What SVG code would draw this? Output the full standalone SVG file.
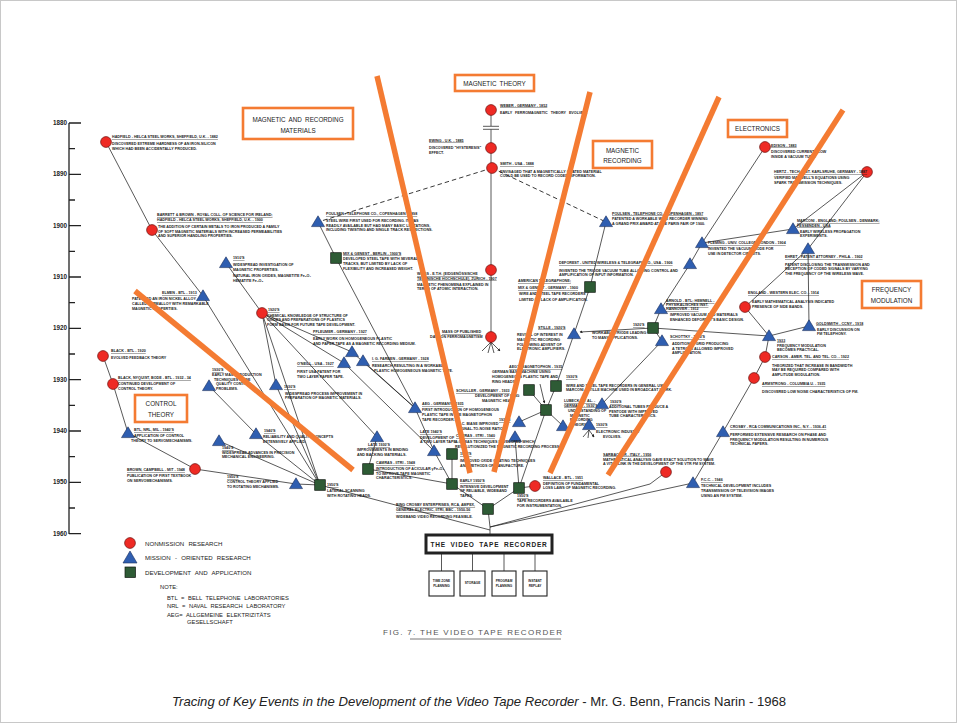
<svg xmlns="http://www.w3.org/2000/svg" width="957" height="723" viewBox="0 0 957 723">
<style>
  .frame{fill:#fff;stroke:#c8c8c8;stroke-width:1}
  .ax{stroke:#222;stroke-width:1.3;fill:none}
  .yr{font:bold 6.3px "Liberation Sans",Arial,sans-serif;fill:#222;text-anchor:end}
  .e{stroke:#222;stroke-width:0.75;fill:none}
  .dash{stroke-dasharray:4.5 3;stroke-width:0.9}
  .hl{stroke:#F47B32;stroke-width:5.5;stroke-linecap:butt}
  .hb{fill:#fff;stroke:#F47B32;stroke-width:2.6}
  .hbt{font:6.3px "Liberation Sans",Arial,sans-serif;fill:#222;text-anchor:middle;word-spacing:1.5px}
  .nr{fill:#EE2A24;stroke:#6b1210;stroke-width:0.7}
  .mo{fill:#2F5EB0;stroke:#1b2f5c;stroke-width:0.6}
  .da{fill:#2E5B35;stroke:#101810;stroke-width:0.7}
  .t{font:bold 3.7px "Liberation Sans",Arial,sans-serif;fill:#1a1a1a}
  .h{text-decoration:underline}
  .lg{font:6.1px "Liberation Sans",Arial,sans-serif;fill:#222;word-spacing:2.5px}
  .nt{font:5.8px "Liberation Sans",Arial,sans-serif;fill:#222;word-spacing:2px}
  .vb{fill:#fff;stroke:#222;stroke-width:3}
  .sb{fill:#fff;stroke:#222;stroke-width:1.1}
  .vt{font:bold 6.5px "Liberation Sans",Arial,sans-serif;fill:#222;text-anchor:middle;letter-spacing:0.8px;word-spacing:2px}
  .st{font:bold 3.2px "Liberation Sans",Arial,sans-serif;fill:#222;text-anchor:middle}
  .fig{font:8px "Liberation Sans",Arial,sans-serif;fill:#555;letter-spacing:1.3px}
  .cap{font:13.1px "Liberation Sans",Arial,sans-serif;fill:#222}
</style>
<defs>
  <circle id="rc" r="5.4" class="nr"/>
  <path id="tr" d="M0,-6.2 L6.5,4.6 L-6.5,4.6 Z" class="mo"/>
  <rect id="sq" x="-5.3" y="-5.3" width="10.6" height="10.6" class="da"/>
  <marker id="ar" viewBox="0 0 6 6" refX="5" refY="3" markerWidth="4" markerHeight="4" orient="auto">
    <path d="M0,0 L6,3 L0,6 Z" fill="#222"/>
  </marker>
</defs>

<rect class="frame" x="0.5" y="0.5" width="956" height="722"/>

<!-- time axis -->
<g id="axis">
  <path class="ax" d="M69,123 V534 M69,123 H81 M69,174.3 H81 M69,225.6 H81 M69,277 H81 M69,328.3 H81 M69,379.6 H81 M69,431 H81 M69,482.3 H81 M69,533.6 H81"/>
  <path class="ax" d="M69,148.7 H75 M69,200 H75 M69,251.3 H75 M69,302.6 H75 M69,354 H75 M69,405.3 H75 M69,456.6 H75 M69,508 H75"/>
  <text class="yr" x="67" y="125">1880</text>
  <text class="yr" x="67" y="176.3">1890</text>
  <text class="yr" x="67" y="227.6">1900</text>
  <text class="yr" x="67" y="279">1910</text>
  <text class="yr" x="67" y="330.3">1920</text>
  <text class="yr" x="67" y="381.6">1930</text>
  <text class="yr" x="67" y="433">1940</text>
  <text class="yr" x="67" y="484.3">1950</text>
  <text class="yr" x="67" y="535.6">1960</text>
</g>

<!-- connectors -->
<g id="connectors">
  <path class="e" d="M106,142 L152,230 L203,296 L320,485"/>
  <path class="e" d="M226,263 L262,313"/>
  <path class="e" d="M262,313 L352,352 M262,313 L344,363 M262,313 L276,385 M262,313 L377,437 M262,313 L320,485"/>
  <path class="e" d="M276,385 L320,485 M209,386 L256,434 L320,485 M219,441 L320,485 M296,484 L320,485"/>
  <path class="e" d="M318,222 L336,258 L415,408 L434,451 L452,484"/>
  <path class="e" d="M344,363 L434,451 M363,361 L415,408 M352,352 L415,408"/>
  <path class="e" d="M377,437 L368,469 L452,484 M452,454 L452,484 L488,509 L490,527 M519,488 L488,509"/>
  <path class="e" d="M320,485 L490,530"/>
  <path class="e" d="M535,486 L519,488"/>
  <path class="e" d="M666,472 L650,484 L490,527 M693,483 L490,527 M490,527 V534"/>
  <path class="e" d="M723,432 L693,483 M754,378 L723,432 M765,357 L754,378 M769,336 L765,357"/>
  <path class="e" d="M745,307 L769,336 M808,249 L745,307 M808,249 L809,326 L769,336"/>
  <path class="e" d="M867,172 L808,249 M867,172 L793,229 L702,243 M765,147 L702,243 L690,264 L661,309 L653,328"/>
  <path class="e" d="M769,336 L653,328"/>
  <path class="e" d="M653,328 L580,332" marker-end="url(#ar)"/>
  <path class="e" d="M653,328 L662,341 L602,404"/>
  <path class="e" d="M606,222 L590,287 L574,334 L556,386 L546,410 M529,390 L546,410 M546,410 L519,488"/>
  <path class="e" d="M519,422 L546,410 M563,426 L546,410 M515,437 L519,488"/>
  <path class="e" d="M540,384 L544.5,403" marker-end="url(#ar)"/>
  <path class="e" d="M491,110 V126 M491,129.5 V337 M483,126.3 H499 M483,129.3 H499"/>
  <path class="e" d="M491,342 L482,351 M491,342 L488,353 M491,342 L494,353 M491,342 L500,351" marker-end="url(#ar)"/>
  <path class="e" d="M589,430 L583,437 M589,430 L588,438 M589,430 L594,437" marker-end="url(#ar)"/>
  <path class="e dash" d="M492,168 L318,222 M492,168 L606,222"/>
  <path class="e" d="M103,356 L113,384 L128,433 L195,469 L296,484"/>
  <path class="e" d="M441.5,553 V571 M472.5,553 V571 M504,553 V571 M535,553 V571"/>
</g>

<!-- category boxes -->
<g id="cat-materials"><rect class="hb" x="243" y="108" width="110" height="31"/><text class="hbt" x="298" y="122">MAGNETIC AND RECORDING</text><text class="hbt" x="298" y="133">MATERIALS</text></g>
<g id="cat-theory"><rect class="hb" x="455" y="75" width="79" height="16"/><text class="hbt" x="494.5" y="85.5">MAGNETIC THEORY</text></g>
<g id="cat-recording"><rect class="hb" x="593" y="141" width="59" height="27"/><text class="hbt" x="622.5" y="153">MAGNETIC</text><text class="hbt" x="622.5" y="163">RECORDING</text></g>
<g id="cat-electronics"><rect class="hb" x="728" y="120" width="59" height="17"/><text class="hbt" x="757.5" y="131">ELECTRONICS</text></g>
<g id="cat-fm"><rect class="hb" x="862" y="281" width="59" height="27"/><text class="hbt" x="891.5" y="292">FREQUENCY</text><text class="hbt" x="891.5" y="302.5">MODULATION</text></g>
<g id="cat-control"><rect class="hb" x="135" y="395" width="52" height="27"/><text class="hbt" x="161" y="406">CONTROL</text><text class="hbt" x="161" y="416.5">THEORY</text></g>

<!-- nodes: magnetic and recording materials -->
<g id="n01"><use href="#rc" x="106" y="142"/><text class="t h" x="112" y="138">HADFIELD - HELCA STEEL WORKS, SHEFFIELD, U.K. - 1882</text><text class="t" x="112" y="144.5">DISCOVERED EXTREME HARDNESS OF AN IRON-SILICON</text><text class="t" x="112" y="149.5">WHICH HAD BEEN ACCIDENTALLY PRODUCED.</text></g>
<g id="n02"><use href="#rc" x="152" y="230"/><text class="t h" x="157" y="216">BARRETT &amp; BROWN - ROYAL COLL. OF SCIENCE FOR IRELAND;</text><text class="t h" x="157" y="221">HADFIELD - HELCA STEEL WORKS, SHEFFIELD, U.K. - 1900</text><text class="t" x="158" y="228">THE ADDITION OF CERTAIN METALS TO IRON PRODUCED A FAMILY</text><text class="t" x="158" y="232.5">OF SOFT MAGNETIC MATERIALS WITH INCREASED PERMEABILITIES</text><text class="t" x="158" y="237">AND SUPERIOR HANDLING PROPERTIES.</text></g>
<g id="n03"><use href="#tr" x="226" y="263"/><text class="t h" x="233" y="259">1910'S</text><text class="t" x="233" y="266">WIDESPREAD INVESTIGATION OF</text><text class="t" x="233" y="271">MAGNETIC PROPERTIES.</text><text class="t" x="233" y="277">NATURAL IRON OXIDES, MAGNETITE Fe₃O₄</text><text class="t" x="233" y="282">HEMATITE   Fe₂O₃</text></g>
<g id="n04"><use href="#tr" x="203" y="296"/><text class="t h" x="162" y="294">ELMEN - BTL - 1913</text><text class="t" x="132" y="300">PATENTED AN IRON NICKEL ALLOY</text><text class="t" x="132" y="305">CALLED PERMALLOY WITH REMARKABLE</text><text class="t" x="132" y="310">MAGNETIC PROPERTIES.</text></g>
<g id="n05"><use href="#rc" x="262" y="313"/><text class="t h" x="268" y="311">1920'S</text><text class="t" x="267" y="316.5">CHEMICAL KNOWLEDGE OF STRUCTURE OF</text><text class="t" x="267" y="321">OXIDES AND PREPARATIONS OF PLASTICS</text><text class="t" x="267" y="326">FORM BASIS FOR FUTURE TAPE DEVELOPMENT.</text></g>
<g id="n06"><use href="#sq" x="336" y="258"/><text class="t h" x="343" y="254.5">MIX &amp; GENEST - BERLIN - 1900'S</text><text class="t" x="343" y="260">DEVELOPED STEEL TAPE WITH SEVERAL</text><text class="t" x="343" y="265">TRACKS, BUT LIMITED BY LACK OF</text><text class="t" x="343" y="270">FLEXIBILITY AND INCREASED WEIGHT.</text></g>
<g id="n07"><use href="#tr" x="318" y="222"/><text class="t h" x="326" y="215">POULSEN - TELEPHONE CO., COPENHAGEN - 1898</text><text class="t" x="326" y="222">STEEL WIRE FIRST USED FOR RECORDING. IT WAS</text><text class="t" x="326" y="226.5">READILY AVAILABLE BUT HAD MANY BASIC LIMITATIONS,</text><text class="t" x="326" y="231">INCLUDING TWISTING AND SINGLE TRACK RESTRICTIONS.</text></g>
<g id="n08"><use href="#tr" x="352" y="352"/><text class="t h" x="313" y="333">PFLEUMER - GERMANY - 1927</text><text class="t" x="313" y="340">EARLY WORK ON HOMOGENEOUS PLASTIC</text><text class="t" x="313" y="345">AND PAPER TAPE AS A MAGNETIC RECORDING MEDIUM.</text></g>
<g id="n09"><use href="#tr" x="344" y="363"/><text class="t h" x="297" y="365">O'NEILL - USA - 1927</text><text class="t" x="297" y="373">FIRST USA PATENT FOR</text><text class="t" x="297" y="378">TWO LAYER PAPER TAPE.</text></g>
<g id="n10"><use href="#tr" x="363" y="361"/><text class="t h" x="372" y="360">I. G. FARBEN - GERMANY - 1928</text><text class="t" x="372" y="367">RESEARCH RESULTING IN A WORKABLE</text><text class="t" x="374" y="372">PLASTIC HOMOGENEOUS MAGNETIC TAPE.</text></g>
<g id="n11"><use href="#tr" x="276" y="385"/><text class="t h" x="284" y="388">1930'S</text><text class="t" x="285" y="394.5">WIDESPREAD PROCESS IMPROVEMENT IN</text><text class="t" x="285" y="399">PREPARATION OF MAGNETIC MATERIALS.</text></g>
<g id="n12"><use href="#tr" x="415" y="408"/><text class="t h" x="422" y="405">AEG - GERMANY - 1935</text><text class="t" x="422" y="411">FIRST INTRODUCTION OF HOMOGENEOUS</text><text class="t" x="422" y="416">PLASTIC TAPE IN THE MAGNETOPHON</text><text class="t" x="422" y="421">TAPE RECORDER.</text></g>
<g id="n13"><use href="#tr" x="377" y="437"/><text class="t h" x="368" y="446">LATE 1930'S</text><text class="t" x="357" y="451">IMPROVEMENTS IN BINDING</text><text class="t" x="357" y="456">AND BACKING MATERIALS.</text></g>
<g id="n14"><use href="#tr" x="434" y="451"/><text class="t h" x="420" y="433">LATE 1940'S</text><text class="t" x="420" y="438.5">DEVELOPMENT OF</text><text class="t" x="420" y="443">A TWO LAYER TAPE.</text></g>
<g id="n15"><use href="#tr" x="256" y="434"/><text class="t h" x="264" y="432">1940'S</text><text class="t" x="263" y="438">RELIABILITY AND QUALITY CONCEPTS</text><text class="t" x="263" y="443">EXTENSIVELY APPLIED.</text></g>
<g id="n16"><use href="#tr" x="209" y="386"/><text class="t h" x="212" y="371">1930'S</text><text class="t" x="212" y="376">EARLY MASS PRODUCTION</text><text class="t" x="214" y="380.5">TECHNIQUES RAISE</text><text class="t" x="216" y="385">QUALITY CONTROL</text><text class="t" x="216" y="389.5">PROBLEMS.</text></g>
<g id="n17"><use href="#tr" x="219" y="441"/><text class="t h" x="222" y="449">1940'S</text><text class="t" x="222" y="454">WIDESPREAD ADVANCES IN PRECISION</text><text class="t" x="222" y="458">MECHANICAL ENGINEERING.</text></g>
<g id="n18"><use href="#tr" x="296" y="484"/><text class="t h" x="227" y="478">1950'S</text><text class="t" x="227" y="483">CONTROL THEORY APPLIED</text><text class="t" x="227" y="487.5">TO ROTATING MECHANISMS.</text></g>
<g id="n19"><use href="#sq" x="320" y="485"/><text class="t h" x="327" y="486">1950'S</text><text class="t" x="327" y="492">LATERAL SCANNING</text><text class="t" x="327" y="497">WITH ROTATING HEADS.</text></g>
<g id="n20"><use href="#sq" x="368" y="469"/><text class="t h" x="376" y="464">CAMRAS - IITRI - 1948</text><text class="t" x="376" y="470">INTRODUCTION OF ACICULAR γFe₂O₃</text><text class="t" x="376" y="474.5">TO IMPROVE TAPE MAGNETIC</text><text class="t" x="376" y="479">CHARACTERISTICS.</text></g>

<!-- nodes: control theory -->
<g id="n21"><use href="#rc" x="103" y="356"/><text class="t h" x="111" y="352">BLACK - BTL - 1920</text><text class="t" x="111" y="359">EVOLVED FEEDBACK THEORY</text></g>
<g id="n22"><use href="#rc" x="113" y="384"/><text class="t h" x="118" y="379">BLACK, NYQUIST, BODE - BTL - 1932 - 34</text><text class="t" x="118" y="385">CONTINUED DEVELOPMENT OF</text><text class="t" x="118" y="390">CONTROL THEORY.</text></g>
<g id="n23"><use href="#tr" x="128" y="433"/><text class="t h" x="134" y="431">BTL, NRL, MIL - 1940'S</text><text class="t" x="134" y="437">APPLICATION OF CONTROL</text><text class="t" x="131" y="442">THEORY TO SERVOMECHANISMS.</text></g>
<g id="n24"><use href="#rc" x="195" y="469"/><text class="t h" x="127" y="471">BROWN, CAMPBELL - MIT - 1948</text><text class="t" x="127" y="477">PUBLICATION OF FIRST TEXTBOOK</text><text class="t" x="127" y="481.5">ON SERVOMECHANISMS.</text></g>

<!-- nodes: magnetic theory -->
<g id="n25"><use href="#rc" x="491" y="110"/><text class="t h" x="500" y="106.5">WEBER - GERMANY - 1852</text><text class="t" x="500" y="114" style="word-spacing:2px">EARLY FERROMAGNETIC THEORY EVOLVED.</text></g>
<g id="n26"><use href="#rc" x="491" y="148"/><text class="t h" x="429" y="141.5">EWING - U.K. - 1885</text><text class="t" x="429" y="149">DISCOVERED "HYSTERESIS"</text><text class="t" x="429" y="154">EFFECT.</text></g>
<g id="n27"><use href="#rc" x="492" y="168"/><text class="t h" x="500" y="165">SMITH - USA - 1888</text><text class="t" x="500" y="172.5">ENVISAGED THAT A MAGNETICALLY COATED MATERIAL</text><text class="t" x="500" y="177">COULD BE USED TO RECORD CODED INFORMATION.</text></g>
<g id="n28"><use href="#rc" x="491" y="270"/><text class="t h" x="417" y="275">WEISS - E.T.H. (EIDGENÖSSISCHE</text><text class="t h" x="417" y="279.5">TECHNISCHE HOCHSCHULE), ZURICH - 1907</text><text class="t" x="417" y="285.5">MAGNETIC PHENOMENA EXPLAINED IN</text><text class="t" x="417" y="290">TERMS OF ATOMIC INTERACTION.</text></g>
<g id="n29"><use href="#rc" x="491" y="337"/><text class="t h" x="442" y="333">MASS OF PUBLISHED</text><text class="t" x="430" y="338">DATA ON FERROMAGNETISM</text></g>

<!-- nodes: magnetic recording -->
<g id="n30"><use href="#tr" x="606" y="222"/><text class="t h" x="612" y="214.5">POULSEN - TELEPHONE CO., COPENHAGEN - 1897</text><text class="t" x="612" y="220">PATENTED A WORKABLE WIRE RECORDER WINNING</text><text class="t" x="612" y="224.5">A GRAND PRIX AWARD AT THE PARIS FAIR OF 1900.</text></g>
<g id="n31"><use href="#sq" x="590" y="287"/><text class="t h" x="518" y="282">AMERICAN TELEGRAPHONE;</text><text class="t h" x="518" y="289">MIX &amp; GENEST - GERMANY - 1900</text><text class="t" x="519" y="294.5">WIRE AND STEEL TAPE RECORDERS</text><text class="t" x="519" y="301">LIMITED BY LACK OF AMPLIFICATION.</text></g>
<g id="n32"><use href="#tr" x="574" y="334"/><text class="t h" x="538" y="328.5">STILLE - 1920'S</text><text class="t" x="517" y="336">REVIVAL OF INTEREST IN</text><text class="t" x="517" y="341">MAGNETIC RECORDING</text><text class="t" x="517" y="345.5">FOLLOWING ADVENT OF</text><text class="t" x="517" y="350">ELECTRONIC AMPLIFIERS.</text></g>
<g id="n33"><use href="#sq" x="556" y="386"/><text class="t h" x="566" y="378">1930'S</text><text class="t" x="566" y="387">WIRE AND STEEL TAPE RECORDERS IN GENERAL USE.</text><text class="t" x="566" y="391">MARCONI - STILLE MACHINE USED IN BROADCAST WORK.</text></g>
<g id="n34"><use href="#sq" x="529" y="390"/><text class="t h" x="456" y="392">SCHULLER - GERMANY - 1933</text><text class="t" x="475" y="397">DEVELOPMENT OF RING</text><text class="t" x="482" y="401.5">MAGNETIC HEAD.</text></g>
<g id="n35"><use href="#sq" x="546" y="410"/><text class="t h" x="509" y="368">AEG'S MAGNETOPHON - 1935</text><text class="t" x="492" y="373">GERMAN BASE MACHINE USING</text><text class="t" x="492" y="378">HOMOGENEOUS PLASTIC TAPE AND</text><text class="t" x="492" y="382.5">RING HEADS.</text></g>
<g id="n36"><use href="#tr" x="519" y="422"/><text class="t h" x="499" y="421">1930'S</text><text class="t" x="458" y="425">D.C. BIASE IMPROVED</text><text class="t" x="458" y="429.5">SIGNAL-TO-NOISE RATIO.</text></g>
<g id="n37"><use href="#tr" x="515" y="437"/><text class="t h" x="456" y="437">CAMRAS - IITRI - 1940</text><text class="t" x="455" y="443">A.C. BIAS TECHNIQUES DEVELOPED WHICH</text><text class="t" x="455" y="447.5">REVOLUTIONIZED THE MAGNETIC RECORDING PROCESS.</text></g>
<g id="n38"><use href="#tr" x="563" y="426"/><text class="t h" x="564" y="402">LUBECK, ET AL. -</text><text class="t h" x="564" y="406.5">GERMANY - 1930'S</text><text class="t" x="568" y="412">UNDERSTANDING OF</text><text class="t" x="570" y="416.5">MAGNETIC</text><text class="t" x="570" y="421">RECORDING</text><text class="t" x="571" y="425.5">THEORY.</text></g>
<g id="n41"><use href="#sq" x="452" y="454"/><text class="t h" x="460" y="455">1950'S</text><text class="t" x="460" y="462">IMPROVED OXIDE COATING TECHNIQUES</text><text class="t" x="460" y="467">AND METHODS OF MANUFACTURE.</text></g>
<g id="n42"><use href="#sq" x="452" y="484"/><text class="t h" x="460" y="482">EARLY 1950'S</text><text class="t" x="460" y="487.5">INTENSIVE DEVELOPMENT</text><text class="t" x="460" y="492">OF RELIABLE, WIDEBAND</text><text class="t" x="460" y="497">TAPES.</text></g>
<g id="n43"><use href="#sq" x="488" y="509"/><text class="t h" x="396" y="506">BING CROSBY ENTERPRISES, RCA, AMPEX,</text><text class="t h" x="396" y="511">GENERAL ELECTRIC, IITRI, BBC - 1950-56</text><text class="t" x="396" y="518">WIDEBAND VIDEO RECORDING FEASIBLE.</text></g>
<g id="n44"><use href="#sq" x="519" y="488"/><text class="t h" x="517" y="497">1950'S</text><text class="t" x="517" y="502">TAPE RECORDERS AVAILABLE</text><text class="t" x="517" y="507">FOR INSTRUMENTATION.</text></g>
<g id="n45"><use href="#rc" x="535" y="486"/><text class="t h" x="543" y="479">WALLACE - BTL - 1951</text><text class="t" x="543" y="484.5">DEFINITION OF FUNDAMENTAL</text><text class="t" x="543" y="489">LOSS LAWS OF MAGNETIC RECORDING.</text></g>

<!-- nodes: electronics -->
<g id="n48"><use href="#rc" x="765" y="147"/><text class="t h" x="771" y="146.5">EDISON - 1883</text><text class="t" x="771" y="153">DISCOVERED CURRENT FLOW</text><text class="t" x="771" y="158">INSIDE A VACUUM TUBE.</text></g>
<g id="n49"><use href="#rc" x="867" y="172"/><text class="t h" x="774" y="173">HERTZ - TECH. INST. KARLSRUHE, GERMANY - 1887</text><text class="t" x="774" y="179">VERIFIED MAXWELL'S EQUATIONS USING</text><text class="t" x="774" y="184">SPARK TRANSMISSION TECHNIQUES.</text></g>
<g id="n50"><use href="#tr" x="793" y="229"/><text class="t h" x="797" y="222">MARCONI - ENGLAND; POULSEN - DENMARK;</text><text class="t h" x="797" y="226.5">FESSENDEN - USA</text><text class="t" x="800" y="232.5">EARLY WIRELESS PROPAGATION</text><text class="t" x="800" y="237">EXPERIMENTS.</text></g>
<g id="n51"><use href="#tr" x="702" y="243"/><text class="t h" x="708" y="244">FLEMING - UNIV. COLLEGE, LONDON - 1904</text><text class="t" x="708" y="250">INVENTED THE VACUUM DIODE FOR</text><text class="t" x="708" y="254.5">USE IN DETECTOR CIRCUITS.</text></g>
<g id="n53"><use href="#tr" x="690" y="264"/><text class="t h" x="559" y="264">DEFOREST - UNITED WIRELESS &amp; TELEGRAPH CO., USA - 1906</text><text class="t" x="559" y="271.5">INVENTED THE TRIODE VACUUM TUBE ALLOWING CONTROL AND</text><text class="t" x="559" y="276">AMPLIFICATION OF INPUT INFORMATION.</text></g>
<g id="n54"><use href="#tr" x="661" y="309"/><text class="t h" x="666" y="302">ARNOLD - BTL; HEMNELL -</text><text class="t h" x="666" y="306">PHYSIKALISCHES INST.</text><text class="t h" x="666" y="310">HANNOVER - 1912</text><text class="t" x="670" y="316">IMPROVED VACUUM AND MATERIALS</text><text class="t" x="670" y="320.5">ENHANCED DEFOREST'S BASIC DESIGN.</text></g>
<g id="n55"><use href="#sq" x="653" y="328"/><text class="t h" x="633" y="326">1920'S</text><text class="t" x="592" y="334">WORKABLE TRIODE LEADING</text><text class="t" x="592" y="338.5">TO MANY APPLICATIONS.</text></g>
<g id="n56"><use href="#tr" x="662" y="341"/><text class="t h" x="670" y="338">SCHOTTKY - 1920'S</text><text class="t" x="672" y="345">ADDITIONAL GRID PRODUCING</text><text class="t" x="672" y="349.5">A TETRODE ALLOWED IMPROVED</text><text class="t" x="672" y="354">AMPLIFICATION.</text></g>
<g id="n39"><use href="#tr" x="602" y="404"/><text class="t h" x="610" y="403">1930'S</text><text class="t" x="609" y="408">ADDITIONAL TUBES PRODUCE A</text><text class="t" x="609" y="412.5">PENTODE WITH IMPROVED</text><text class="t" x="609" y="417">TUBE CHARACTERISTICS.</text></g>
<g id="n40"><use href="#tr" x="589" y="425"/><text class="t h" x="596" y="426">1930'S</text><text class="t" x="596" y="433">ELECTRONIC INDUSTRY</text><text class="t" x="603" y="438">EVOLVES.</text></g>

<!-- nodes: frequency modulation -->
<g id="n52"><use href="#tr" x="808" y="249"/><text class="t h" x="785" y="258">EHRET - PATENT ATTORNEY - PHILA. - 1902</text><text class="t" x="785" y="265.5">PATENT DISCLOSING THE TRANSMISSION AND</text><text class="t" x="785" y="270">RECEPTION OF CODED SIGNALS BY VARYING</text><text class="t" x="785" y="274.5">THE FREQUENCY OF THE WIRELESS WAVE.</text></g>
<g id="n57"><use href="#rc" x="745" y="307"/><text class="t h" x="748" y="294">ENGLAND - WESTERN ELEC. CO. - 1914</text><text class="t" x="752" y="303">EARLY MATHEMATICAL ANALYSIS INDICATED</text><text class="t" x="752" y="307.5">PRESENCE OF SIDE BANDS.</text></g>
<g id="n58"><use href="#tr" x="769" y="336"/><text class="t h" x="777" y="341.5">1933</text><text class="t" x="777" y="346.5">FREQUENCY MODULATION</text><text class="t" x="777" y="351">BECOMES PRACTICAL.</text></g>
<g id="n59"><use href="#tr" x="809" y="326"/><text class="t h" x="816" y="324.5">GOLDSMITH - CCNY - 1918</text><text class="t" x="817" y="330.5">EARLY DISCUSSION ON</text><text class="t" x="817" y="335">FM TELEPHONY.</text></g>
<g id="n60"><use href="#rc" x="765" y="357"/><text class="t h" x="772" y="358">CARSON - AMER. TEL. AND TEL. CO. - 1922</text><text class="t" x="772" y="366.5">THEORIZED THAT INCREASE IN BANDWIDTH</text><text class="t" x="772" y="371">MAY BE REQUIRED COMPARED WITH</text><text class="t" x="772" y="375.5">AMPLITUDE MODULATION.</text></g>
<g id="n61"><use href="#rc" x="754" y="378"/><text class="t h" x="762" y="385">ARMSTRONG - COLUMBIA U. - 1935</text><text class="t" x="762" y="392.5">DISCOVERED LOW NOISE CHARACTERISTICS OF FM.</text></g>
<g id="n62"><use href="#tr" x="723" y="432"/><text class="t h" x="730" y="428">CROSBY - RCA COMMUNICATIONS INC., N.Y. - 1936-41</text><text class="t" x="730" y="436">PERFORMED EXTENSIVE RESEARCH ON PHASE AND</text><text class="t" x="730" y="440.5">FREQUENCY MODULATION RESULTING IN NUMEROUS</text><text class="t" x="730" y="445">TECHNICAL PAPERS.</text></g>
<g id="n46"><use href="#rc" x="666" y="472"/><text class="t h" x="603" y="455.5">SARBACHER - ITALY - 1956</text><text class="t" x="603" y="460.5">MATHEMATICAL ANALYSIS GAVE EXACT SOLUTION TO WAVE</text><text class="t" x="603" y="465">A VITAL LINK IN THE DEVELOPMENT OF THE VTR FM SYSTEM.</text></g>
<g id="n47"><use href="#tr" x="693" y="483"/><text class="t h" x="701" y="481">F.C.C. - 1946</text><text class="t" x="701" y="487">TECHNICAL DEVELOPMENT INCLUDES</text><text class="t" x="701" y="492">TRANSMISSION OF TELEVISION IMAGES</text><text class="t" x="701" y="497">USING AN FM SYSTEM.</text></g>

<!-- highlight strokes across the branches -->
<g id="highlights">
  <line class="hl" x1="135" y1="291" x2="353" y2="470"/>
  <line class="hl" x1="377" y1="76" x2="470" y2="473"/>
  <line class="hl" x1="590" y1="92" x2="494" y2="472"/>
  <line class="hl" x1="719" y1="97" x2="550" y2="473"/>
  <line class="hl" x1="843" y1="110" x2="608" y2="475"/>
</g>

<!-- video tape recorder -->
<g id="vtr">
  <rect class="vb" x="426" y="535" width="126" height="18"/>
  <text class="vt" x="489" y="546.5">THE VIDEO TAPE RECORDER</text>
</g>
<g id="vtr-zone"><rect class="sb" x="429" y="571" width="25" height="25"/><text class="st" x="441.5" y="582">TIME ZONE</text><text class="st" x="441.5" y="586.5">PLANNING</text></g>
<g id="vtr-storage"><rect class="sb" x="460" y="571" width="25" height="25"/><text class="st" x="472.5" y="584">STORAGE</text></g>
<g id="vtr-program"><rect class="sb" x="492" y="571" width="24" height="25"/><text class="st" x="504" y="582">PROGRAM</text><text class="st" x="504" y="586.5">PLANNING</text></g>
<g id="vtr-replay"><rect class="sb" x="523" y="571" width="24" height="25"/><text class="st" x="535" y="582">INSTANT</text><text class="st" x="535" y="586.5">REPLAY</text></g>

<!-- legend -->
<g id="legend">
  <use href="#rc" x="130" y="543"/>
  <path d="M130,551 L137,563 L123,563 Z" class="mo"/>
  <rect x="125" y="567" width="10.5" height="10.5" class="da"/>
  <text class="lg" x="145" y="545.5">NONMISSION RESEARCH</text>
  <text class="lg" x="145" y="560">MISSION - ORIENTED RESEARCH</text>
  <text class="lg" x="145" y="575">DEVELOPMENT AND APPLICATION</text>
  <text class="nt" x="160" y="589">NOTE:</text>
  <text class="nt" x="167" y="600">BTL = BELL TELEPHONE LABORATORIES</text>
  <text class="nt" x="167" y="608">NRL = NAVAL RESEARCH LABORATORY</text>
  <text class="nt" x="167" y="616.5">AEG= ALLGEMEINE ELEKTRIZITÄTS</text>
  <text class="nt" x="187" y="623.5">GESELLSCHAFT</text>
</g>

<g id="caption">
  <text class="fig" x="383" y="635">FIG. 7.  THE VIDEO TAPE RECORDER</text>
  <line x1="410" y1="639" x2="561" y2="639" stroke="#555" stroke-width="0.8"/>
  <text class="cap" x="172" y="706"><tspan font-style="italic">Tracing of Key Events in the Development of the Video Tape Recorder</tspan>  - Mr. G. Benn, Francis Narin - 1968</text>
</g>
</svg>
